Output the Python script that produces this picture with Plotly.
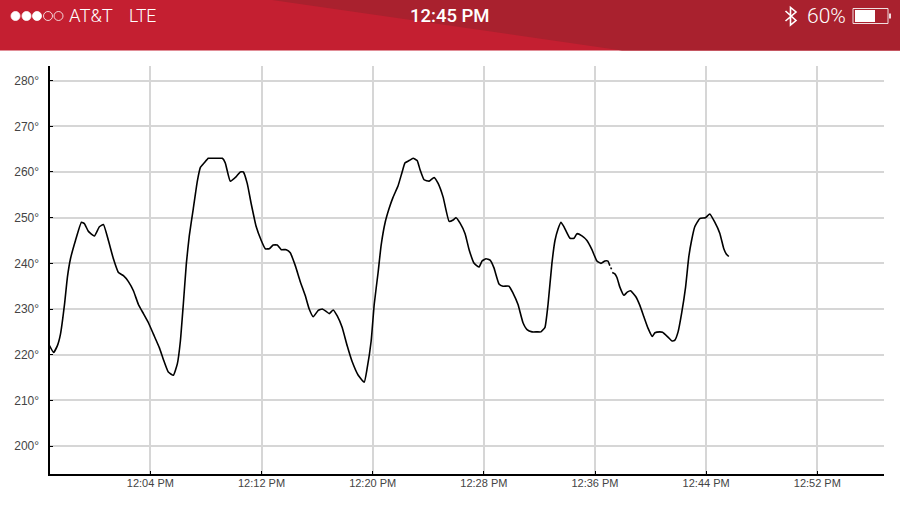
import plotly.graph_objects as go

W = 900
H = 507

# minutes after 12:00 PM
minutes = [
    -3.26, -2.97, -2.69, -2.47, -2.18, -1.97, -1.75, -1.39, -0.96, -0.75, -0.46, -0.03,
    0.33, 0.62, 0.98, 1.34, 1.70, 2.06, 2.42, 2.78, 3.14, 3.50, 3.86, 4.22, 4.65, 4.93,
    5.29, 5.65, 5.94, 6.16, 6.37, 6.59, 6.80, 7.09, 7.38, 7.60, 7.88, 8.17, 8.46, 8.89,
    9.18, 9.39, 9.75, 10.18, 10.47, 10.69, 10.97, 11.26, 11.62, 11.98, 12.27, 12.56,
    12.84, 13.13, 13.42, 13.78, 14.07, 14.43, 14.79, 15.14, 15.43, 15.72, 16.08, 16.37,
    16.65, 16.87, 17.16, 17.45, 17.80, 18.16, 18.52, 18.96, 19.39, 19.60, 19.89, 20.11,
    20.39, 20.61, 20.90, 21.18, 21.47, 21.83, 22.12, 22.33, 22.62, 22.91, 23.20, 23.41,
    23.70, 24.06, 24.42, 24.71, 25.07, 25.50, 25.79, 26.00, 26.29, 26.65, 26.94, 27.30,
    27.66, 27.87, 28.16, 28.45, 28.73, 29.09, 29.38, 29.81, 30.10, 30.46, 30.82, 31.11,
    31.47, 31.83, 32.11, 32.40, 32.62, 32.90, 33.12, 33.34, 33.55, 33.77, 34.20, 34.49,
    34.70, 35.06, 35.42, 35.78, 36.14, 36.43, 36.71, 36.93, 37.07, None, 37.13, 37.19,
    None, 37.24, 37.43, 37.58, 37.79, 38.08, 38.32, 38.56, 38.94, 39.23, 39.52, 39.83,
    40.12, 40.31, 40.67, 40.86, 41.27, 41.55, 41.75, 41.98, 42.23, 42.52, 42.75, 42.95,
    43.18, 43.54, 43.95, 44.26, 44.62, 44.98, 45.27, 45.46, 45.63,
]
temps = [
    222, 220.5, 222, 224.5, 231, 237, 241, 245, 249, 248.7, 247, 246,
    248, 248.5, 245, 241, 238, 237.3, 236, 234, 231, 229, 227, 224.5, 221.5, 219,
    216.2, 215.5, 218, 223, 231, 240, 246, 252, 258, 261, 262, 263, 263, 263,
    263, 262, 258, 259, 260, 260, 257.5, 253, 248, 245, 243.2, 243.2,
    244, 244, 243, 243, 242.3, 239.5, 236, 233, 230, 228.3, 229.7, 230,
    229.5, 229, 229.8, 228.5, 226, 222, 218.5, 215.5, 214, 217, 223, 231,
    238, 244, 249, 252, 254.5, 257, 260, 262, 262.5, 263, 262.5, 260.5,
    258.3, 258, 258.8, 257.5, 254.5, 249.2, 249.5, 250, 248.8, 246.5, 243, 240,
    239.2, 240.5, 241, 240.7, 239, 235.5, 235, 235, 233.5, 231, 227, 225.5,
    225, 225, 225, 226, 231, 240, 245, 247.5, 249, 248, 245.5, 245.5,
    246.5, 246, 245, 243, 240.5, 240, 240.5, 240.5, 239.5, None, 239.1, 238.7,
    None, 238, 237.7, 236.9, 234.8, 233, 233.7, 234, 232.7, 230.8, 228.3, 225.7,
    224, 224.8, 225, 224.9, 223.8, 223, 223.2, 225, 229, 234.8, 241.4, 245,
    248, 249.8, 250, 250.8, 249, 246.6, 243.2, 242, 241.5,
]

x_ticks = [4, 12, 20, 28, 36, 44, 52]
x_labels = ["12:04 PM", "12:12 PM", "12:20 PM", "12:28 PM", "12:36 PM", "12:44 PM", "12:52 PM"]
y_ticks = [200, 210, 220, 230, 240, 250, 260, 270, 280]
y_labels = ["200°", "210°", "220°", "230°", "240°", "250°", "260°", "270°", "280°"]

RED = "#c41f31"
DARK_RED = "#a9212e"
GRID = "#d6d6d6"
TEXT = "#444444"
FONT = "Liberation Sans"


def px_x(v):
    return v / W


def px_y(v):
    return 1 - v / H


fig = go.Figure()
fig.add_trace(go.Scatter(x=minutes, y=temps, mode="lines", connectgaps=False,
                         line=dict(color="#000000", width=1.6, shape="spline", smoothing=0.4),
                         hoverinfo="skip"))

shapes = []
# status bar
shapes.append(dict(type="rect", xref="paper", yref="paper", x0=0, x1=1, y0=px_y(50.5), y1=1,
                   fillcolor=RED, line_width=0, layer="below"))
pts = [(272, 0), (900, 0), (900, 50.5), (622, 50.5)]
path = "M " + " L ".join(f"{px_x(a):.5f},{px_y(b):.5f}" for a, b in pts) + " Z"
shapes.append(dict(type="path", xref="paper", yref="paper", path=path, fillcolor=DARK_RED,
                   line_width=0, layer="below"))
# signal dots
for i, cx in enumerate([15.5, 26.5, 37, 48, 58.5]):
    shapes.append(dict(type="circle", xref="paper", yref="paper",
                       x0=px_x(cx - 4.5), x1=px_x(cx + 4.5), y0=px_y(20.5), y1=px_y(11.5),
                       fillcolor="#ffffff" if i < 3 else "rgba(0,0,0,0)",
                       line=dict(color="#ffffff", width=0.8)))
# battery
shapes.append(dict(type="rect", xref="paper", yref="paper", x0=px_x(853), x1=px_x(888),
                   y0=px_y(23.5), y1=px_y(8.5), line=dict(color="#f0dfe0", width=1)))
shapes.append(dict(type="rect", xref="paper", yref="paper", x0=px_x(855), x1=px_x(875),
                   y0=px_y(22), y1=px_y(10), fillcolor="#ffffff", line_width=0))
shapes.append(dict(type="rect", xref="paper", yref="paper", x0=px_x(889), x1=px_x(891),
                   y0=px_y(18.5), y1=px_y(13.5), fillcolor="#f0dfe0", line_width=0))
# bluetooth
bt = [(785.5, 11), (796, 20.5), (790.5, 25), (790.5, 7.5), (796, 12), (785.5, 21)]
path = "M " + " L ".join(f"{px_x(a):.5f},{px_y(b):.5f}" for a, b in bt)
shapes.append(dict(type="path", xref="paper", yref="paper", path=path,
                   line=dict(color="#ffffff", width=1.6)))

annotations = []
for txt, x, anchor, size, weight in [
    ("AT&T", 66.5, "left", 18.5, 300),
    ("LTE", 126.5, "left", 17.5, 300),
    ("12:45 PM", 449.5, "center", 18.5, 500),
    ("60%", 804.5, "left", 21, 300),
]:
    annotations.append(dict(text=txt, xref="paper", yref="paper", x=px_x(x), y=px_y(16),
                            xanchor=anchor, yanchor="middle", showarrow=False,
                            font=dict(family="Roboto", size=size, color="#ffffff", weight=weight)))

fig.update_layout(
    width=W, height=H, autosize=False,
    margin=dict(l=0, r=0, t=0, b=0),
    paper_bgcolor="#ffffff", plot_bgcolor="#ffffff",
    showlegend=False, shapes=shapes, annotations=annotations,
    font=dict(family=FONT, size=12, color=TEXT),
)
fig.update_xaxes(
    domain=[px_x(49.5), px_x(884)], range=[-3.26, 56.8],
    tickvals=x_ticks, ticktext=x_labels, ticks="inside", ticklen=3, tickcolor="#000000",
    tickfont=dict(size=11), ticklabelstandoff=-2,
    showgrid=True, gridcolor=GRID, gridwidth=1.5, zeroline=False,
    showline=True, linecolor="#000000", linewidth=2,
)
fig.update_yaxes(
    domain=[px_y(473.5), px_y(66)], range=[194, 283.2],
    tickvals=y_ticks, ticktext=y_labels, ticks="inside", ticklen=3, tickcolor="#000000",
    ticklabelstandoff=6,
    showgrid=True, gridcolor=GRID, gridwidth=1.5, zeroline=False,
    showline=True, linecolor="#000000", linewidth=2,
)

fig.write_html("out.html", config={"displayModeBar": False},
               post_script="document.body.style.margin='0';")
